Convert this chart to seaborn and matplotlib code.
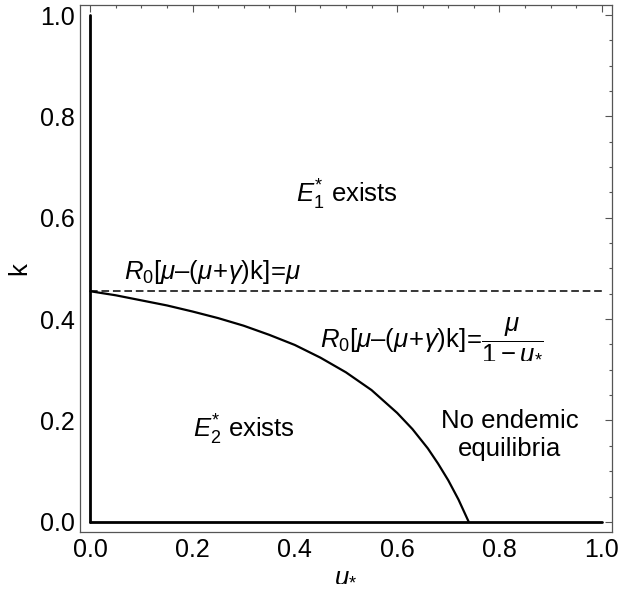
import numpy as np
import pandas as pd
import seaborn as sns
import matplotlib
matplotlib.use("Agg")
import matplotlib.pyplot as plt
from matplotlib.ticker import MultipleLocator

# ---------------------------------------
# Data
# ---------------------------------------
u_curve = [0.0, 0.05, 0.1, 0.15, 0.2, 0.25, 0.3, 0.35, 0.4, 0.45, 0.5,
           0.55, 0.6, 0.63, 0.66, 0.68, 0.7, 0.72, 0.74]
k_curve = [0.455, 0.447, 0.437, 0.427, 0.415, 0.402, 0.387, 0.369, 0.349,
           0.324, 0.295, 0.260, 0.215, 0.183, 0.145, 0.115, 0.082, 0.044, 0.0]
k_threshold = 0.455          # dashed line R0[mu-(mu+gamma)k]=mu
u_axis = [0.0, 1.0]          # boundary line along k=0
k_axis = [0.0, 1.0]          # boundary line along u=0
tick_values = [0.0, 0.2, 0.4, 0.6, 0.8, 1.0]

curve = pd.DataFrame({"u": u_curve, "k": k_curve})
dashed = pd.DataFrame({"u": u_axis, "k": [k_threshold, k_threshold]})
bottom = pd.DataFrame({"u": u_axis, "k": [0.0, 0.0]})
left = pd.DataFrame({"u": [0.0, 0.0], "k": k_axis})

# ---------------------------------------
# Theme
# ---------------------------------------
sns.set_style("white")
plt.rcParams["font.family"] = ["Liberation Sans", "DejaVu Sans"]
plt.rcParams["mathtext.fontset"] = "custom"
plt.rcParams["mathtext.rm"] = "Liberation Sans"
plt.rcParams["mathtext.it"] = "Liberation Sans:italic"
plt.rcParams["mathtext.bf"] = "Liberation Sans:bold"
plt.rcParams["text.color"] = "black"
plt.rcParams["axes.labelcolor"] = "black"

fig = plt.figure(figsize=(6.2, 6.08), dpi=100)
ax = fig.add_axes([0.129, 0.125, 0.858, 0.867])

line_kw = dict(x="u", y="k", estimator=None, sort=False, color="black", ax=ax)
sns.lineplot(data=left, lw=2.0, **line_kw)
sns.lineplot(data=bottom, lw=2.0, **line_kw)
sns.lineplot(data=curve, lw=1.6, **line_kw)
sns.lineplot(data=dashed, lw=1.1, dashes=False, linestyle=(0, (5, 2.5)), **line_kw)

# ---------------------------------------
# Annotations
# ---------------------------------------
txt = dict(fontsize=18.5, color="black")
ax.text(0.502, 0.645, r"$E_1^{*}$ exists", ha="center", va="center", **txt)
ax.text(0.30, 0.181, r"$E_2^{*}$ exists", ha="center", va="center", **txt)
ax.text(0.82, 0.172, "No endemic\nequilibria", ha="center", va="center",
        linespacing=1.2, **txt)
ax.text(0.066, 0.493, r"$R_0[\mu\text{–}(\mu\!+\!\gamma)\mathrm{k}]\!=\!\mu$",
        ha="left", va="center", **txt)
ax.text(0.450, 0.364,
        r"$R_0[\mu\text{–}(\mu\!+\!\gamma)\mathrm{k}]\!=\!\dfrac{\mu}{1-u_{*}}$",
        ha="left", va="center", **txt)

# ---------------------------------------
# Axes / frame
# ---------------------------------------
ax.set_xlim(-0.02, 1.02)
ax.set_ylim(-0.02, 1.02)
ax.set_xticks(tick_values)
ax.set_yticks(tick_values)
ax.set_xticklabels([f"{v:.1f}" for v in tick_values])
ax.set_yticklabels([f"{v:.1f}" for v in tick_values])
ax.xaxis.set_minor_locator(MultipleLocator(0.05))
ax.yaxis.set_minor_locator(MultipleLocator(0.05))
ax.tick_params(which="both", direction="in", top=True, right=True,
               color="#555555", width=0.8, labelsize=18, labelcolor="black", pad=4)
ax.tick_params(which="major", length=5)
ax.tick_params(which="minor", length=2.5)
for s in ax.spines.values():
    s.set_color("#555555")
    s.set_linewidth(0.9)

ax.set_xlabel(r"$u_{*}$", fontsize=18.5, va="center")
ax.xaxis.set_label_coords(0.5, -0.08)
ax.set_ylabel("k", fontsize=18.5, labelpad=6)

fig.savefig("out.png", dpi=100)
